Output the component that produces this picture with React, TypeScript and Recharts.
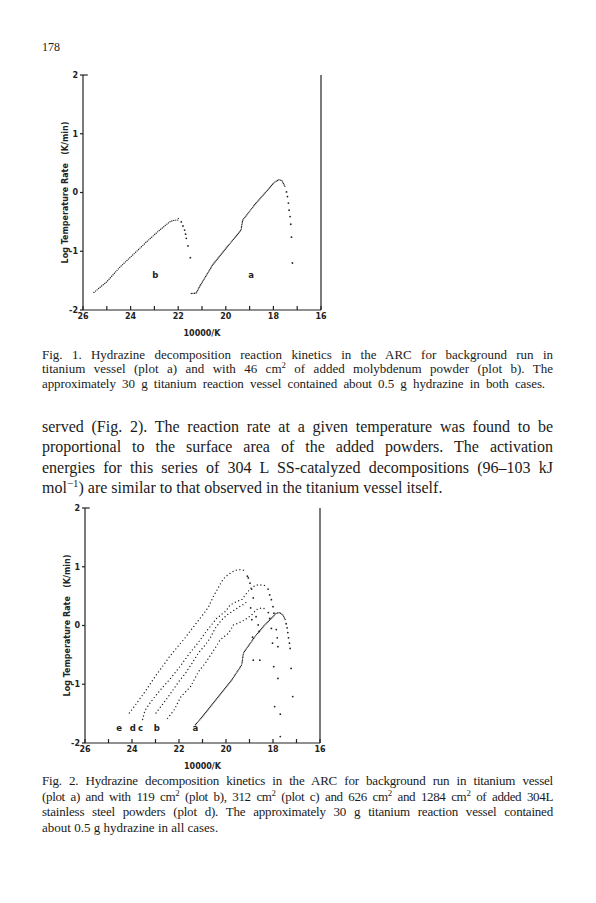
import { ComposedChart, Line, Scatter, XAxis, YAxis, ReferenceLine } from 'recharts';

// axis ticks (10000/K runs right-to-left)
const xTicks = [26, 25, 24, 23, 22, 21, 20, 19, 18, 17, 16];
const yTicks = [-2, -1, 0, 1, 2];

// Fig. 1 — curve b (46 cm2 Mo), curve a (background)
const fig1BRise = [[25.54, -1.7], [25.0, -1.52], [24.45, -1.27], [23.9, -1.06], [23.33, -0.84], [22.78, -0.64], [22.36, -0.5], [22.15, -0.47], [22.01, -0.47], [21.98, -0.41]];
const fig1BFall = [[21.87, -0.5], [21.8, -0.57], [21.73, -0.64], [21.69, -0.71], [21.66, -0.78], [21.59, -0.91], [21.49, -1.11]];
const fig1ARise = [[21.45, -1.72], [21.24, -1.71], [21.1, -1.6], [20.55, -1.23], [19.99, -0.95], [19.36, -0.64], [19.29, -0.47], [18.73, -0.18], [18.31, 0.01], [17.97, 0.17], [17.76, 0.22], [17.64, 0.2], [17.51, 0.1]];
const fig1AFall = [[17.45, 0.01], [17.41, -0.07], [17.37, -0.18], [17.34, -0.3], [17.3, -0.41], [17.27, -0.54], [17.24, -0.76], [17.2, -1.2]];
const fig1Labels = [{ x: 22.96, y: -1.4, t: 'b' }, { x: 18.94, y: -1.4, t: 'a' }];

// Fig. 2 — a background, b 119 cm2, c 312 cm2, d/e 626 and 1284 cm2
const fig2ERise = [[24.11, -1.49], [23.76, -1.3], [23.4, -1.1], [23.0, -0.86], [22.67, -0.68], [22.42, -0.54], [22.14, -0.4], [21.72, -0.2], [21.4, -0.03], [20.95, 0.2], [20.74, 0.32], [20.53, 0.5], [20.32, 0.65], [20.18, 0.75], [20.03, 0.83], [19.82, 0.89], [19.61, 0.94], [19.4, 0.95], [19.26, 0.94], [19.17, 0.89]];
const fig2EFall = [[19.09, 0.84], [19.05, 0.81], [18.98, 0.72], [18.91, 0.62], [18.84, 0.47], [18.72, 0.15], [18.63, 0.01], [18.59, -0.1], [18.56, -0.59]];
const fig2DRise = [[23.55, -1.6], [23.45, -1.45], [23.2, -1.3], [22.8, -1.1], [22.4, -0.92], [22.0, -0.72], [21.6, -0.5], [21.2, -0.3], [20.8, -0.08], [20.4, 0.12], [20.0, 0.25], [19.82, 0.35], [19.54, 0.41], [19.33, 0.44], [19.12, 0.55], [18.98, 0.62], [18.84, 0.66], [18.7, 0.69], [18.49, 0.69], [18.32, 0.68]];
const fig2DFall = [[18.21, 0.62], [18.14, 0.52], [18.07, 0.44], [18.0, 0.32], [17.96, 0.21], [17.86, -0.07], [17.82, -0.21], [17.79, -0.36], [17.79, -0.9], [17.69, -1.51], [17.69, -1.89]];
const fig2CRise = [[22.98, -1.49], [22.77, -1.38], [22.4, -1.18], [22.0, -0.95], [21.72, -0.81], [21.44, -0.64], [21.16, -0.46], [20.88, -0.33], [20.67, -0.21], [20.45, -0.04], [20.24, 0.07], [19.96, 0.18], [19.47, 0.31], [19.26, 0.36], [19.05, 0.42]];
const fig2CFall = [[18.95, 0.3], [18.9, 0.1], [18.87, -0.2], [18.84, -0.59]];
const fig2BRise = [[22.49, -1.58], [22.21, -1.44], [21.93, -1.22], [21.51, -1.04], [21.16, -0.78], [20.88, -0.64], [20.6, -0.47], [20.24, -0.24], [19.89, -0.13], [19.68, 0.01], [19.47, 0.04], [19.19, 0.1], [18.91, 0.18], [18.7, 0.27], [18.49, 0.3], [18.28, 0.28]];
const fig2BFall = [[18.2, 0.22], [18.14, 0.12], [18.07, -0.05], [18.02, -0.3], [17.97, -0.7], [17.93, -1.38]];
const fig2ARise = [[21.3, -1.69], [20.88, -1.49], [20.32, -1.21], [19.76, -0.93], [19.33, -0.67], [19.26, -0.47], [18.77, -0.19], [18.35, 0.01], [18.0, 0.15], [17.86, 0.21], [17.72, 0.22], [17.58, 0.18], [17.48, 0.1]];
const fig2AFall = [[17.44, 0.03], [17.4, -0.04], [17.37, -0.12], [17.34, -0.21], [17.3, -0.3], [17.27, -0.39], [17.23, -0.73], [17.16, -1.21]];
const fig2Labels = [{ x: 24.55, y: -1.75, t: 'e' }, { x: 23.97, y: -1.75, t: 'd' }, { x: 23.64, y: -1.75, t: 'c' }, { x: 22.95, y: -1.75, t: 'b' }, { x: 21.3, y: -1.75, t: 'a' }];

const INK = '#222';
const boldFont = { fontFamily: 'DejaVu Sans', fontWeight: 700, fontSize: 8, fill: INK };

const pts = (a: number[][]) => a.map(([x, y]) => ({ x, y }));

const dotShape = (p: any) => <circle cx={p.cx} cy={p.cy} r={0.9} fill={INK} />;
const labelShape = (p: any) => (
  <text x={p.cx} y={p.cy} textAnchor="middle" dominantBaseline="central" style={{ ...boldFont, fontSize: 8.5 }}>
    {p.payload.t}
  </text>
);

type Curve = { rise: number[][]; fall: number[][]; dash: string };

function Plot({ top, margin, curves, labels }: { top: number; margin: any; curves: Curve[]; labels: any[] }) {
  return (
    <div style={{ position: 'absolute', top, left: 0 }}>
      <ComposedChart width={340} height={290} margin={margin}>
        <XAxis
          type="number" dataKey="x" domain={[16, 26]} reversed allowDataOverflow
          ticks={xTicks} interval={0} tickFormatter={(v) => (v % 2 === 0 ? String(v) : '')}
          tickSize={-4} tickMargin={7} height={26}
          axisLine={{ stroke: INK, strokeWidth: 1.2 }} tickLine={{ stroke: INK, strokeWidth: 1.2 }}
          tick={boldFont}
          label={{ value: '10000/K', position: 'insideBottom', offset: 0, style: boldFont }}
        />
        <YAxis
          yAxisId="l" type="number" dataKey="y" domain={[-2, 2]} ticks={yTicks} interval={0}
          width={43} tickSize={3} tickMargin={2}
          axisLine={{ stroke: INK, strokeWidth: 1.2 }} tickLine={{ stroke: INK, strokeWidth: 1.2 }}
          tick={boldFont}
          label={{
            value: 'Log Temperature Rate\u00a0\u00a0\u00a0(K/min)', angle: -90, position: 'insideLeft', offset: 25,
            style: { ...boldFont, textAnchor: 'middle' },
          }}
        />
        <YAxis
          yAxisId="r" orientation="right" type="number" domain={[-2, 2]} ticks={yTicks} interval={0}
          width={4} tickSize={-4} tick={false}
          axisLine={{ stroke: INK, strokeWidth: 1.2 }} tickLine={{ stroke: INK, strokeWidth: 1.2 }}
        />
        <ReferenceLine yAxisId="l" segment={[{ x: 26, y: 2 }, { x: 25.8, y: 2 }]} stroke={INK} strokeWidth={1.2} />
        {curves.map((c, i) => (
          <Line key={'r' + i} yAxisId="l" data={pts(c.rise)} dataKey="y" type="linear"
            stroke={INK} strokeWidth={1.4} strokeDasharray={c.dash} strokeLinecap="round"
            dot={false} isAnimationActive={false} />
        ))}
        {curves.map((c, i) => (
          <Scatter key={'f' + i} yAxisId="l" data={pts(c.fall)} dataKey="y" shape={dotShape} isAnimationActive={false} />
        ))}
        <Scatter yAxisId="l" data={labels} dataKey="y" shape={labelShape} isAnimationActive={false} />
      </ComposedChart>
    </div>
  );
}

const sup = (s: string) => <span style={{ fontSize: '0.68em', verticalAlign: 'super', lineHeight: 0 }}>{s}</span>;

type TextLine = { c: any; w?: number; ls?: number; last?: boolean };

function Lines({ top, size, lh, lines }: { top: number; size: number; lh: number; lines: TextLine[] }) {
  return (
    <div style={{ position: 'absolute', top, left: 42, width: 511, fontFamily: 'Liberation Serif', fontSize: size, lineHeight: lh + 'px', color: '#1a1a1a' }}>
      {lines.map((ln, i) => (
        <div key={i} style={{
          width: ln.w ?? 511, whiteSpace: 'nowrap', letterSpacing: ln.ls ?? 0,
          textAlign: 'justify', textAlignLast: ln.last ? 'left' : 'justify',
        }}>{ln.c}</div>
      ))}
    </div>
  );
}

export default function App() {
  return (
    <div style={{ position: 'absolute', left: 0, top: 0, width: 596, height: 903, background: '#fff' }}>
      <div style={{ position: 'absolute', left: 42, top: 40, fontFamily: 'Liberation Serif', fontSize: 12, color: '#1a1a1a' }}>178</div>

      <Plot top={60} margin={{ top: 15, right: 15, bottom: 14, left: 40 }}
        curves={[
          { rise: fig1BRise, fall: fig1BFall, dash: '0 2' },
          { rise: fig1ARise, fall: fig1AFall, dash: '0 1.6' },
        ]}
        labels={fig1Labels} />

      <Lines top={347.5} size={13} lh={14.6} lines={[
        { c: 'Fig. 1. Hydrazine decomposition reaction kinetics in the ARC for background run in' },
        { c: <>titanium vessel (plot a) and with 46 cm{sup('2')} of added molybdenum powder (plot b). The</> },
        { c: 'approximately 30 g titanium reaction vessel contained about 0.5 g hydrazine in both cases.', w: 503, ls: -0.1 },
      ]} />

      <Lines top={416.5} size={16} lh={20.6} lines={[
        { c: 'served (Fig. 2). The reaction rate at a given temperature was found to be' },
        { c: 'proportional to the surface area of the added powders. The activation' },
        { c: 'energies for this series of 304 L SS-catalyzed decompositions (96\u2013103 kJ' },
        { c: <>mol{sup('\u22121')}) are similar to that observed in the titanium vessel itself.</>, last: true },
      ]} />

      <Plot top={490} margin={{ top: 18, right: 16, bottom: 11, left: 42 }}
        curves={[
          { rise: fig2ERise, fall: fig2EFall, dash: '0 3.6' },
          { rise: fig2DRise, fall: fig2DFall, dash: '0 3.6' },
          { rise: fig2CRise, fall: fig2CFall, dash: '0 3.6' },
          { rise: fig2BRise, fall: fig2BFall, dash: '0 3.6' },
          { rise: fig2ARise, fall: fig2AFall, dash: '0 1.6' },
        ]}
        labels={fig2Labels} />

      <Lines top={773} size={13} lh={15.5} lines={[
        { c: 'Fig. 2. Hydrazine decomposition kinetics in the ARC for background run in titanium vessel', ls: -0.2 },
        { c: <>(plot a) and with 119 cm{sup('2')} (plot b), 312 cm{sup('2')} (plot c) and 626 cm{sup('2')} and 1284 cm{sup('2')} of added 304L</>, ls: -0.35 },
        { c: 'stainless steel powders (plot d). The approximately 30 g titanium reaction vessel contained', ls: -0.2 },
        { c: 'about 0.5 g hydrazine in all cases.', last: true },
      ]} />
    </div>
  );
}
